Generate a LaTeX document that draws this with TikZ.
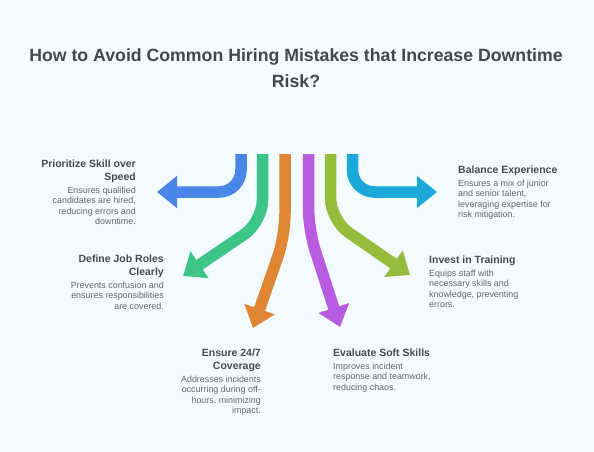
\documentclass[tikz,border=0pt]{standalone}
\usepackage{fontspec}
\setmainfont{Liberation Sans}
\usetikzlibrary{arrows.meta}
\definecolor{bg}{HTML}{F3FBFE}
\definecolor{cblue}{HTML}{4A86E8}
\definecolor{cgreen}{HTML}{3DC587}
\definecolor{corange}{HTML}{E08533}
\definecolor{cpurple}{HTML}{B75CE0}
\definecolor{colive}{HTML}{95BC3A}
\definecolor{ccyan}{HTML}{1BA9DA}
\definecolor{ctitle}{HTML}{474747}
\definecolor{chead}{HTML}{4A4A4A}
\definecolor{cbody}{HTML}{666666}
\begin{document}
\begin{tikzpicture}[x=1pt,y=-1pt,
  arr/.style={line width=11.5pt,-{Triangle[length=20pt,width=31pt]},rounded corners=22pt},
  maintitle/.style={inner sep=0pt,anchor=north,align=center,text=ctitle,font=\fontsize{17.7}{25.7}\selectfont\bfseries},
  headR/.style={inner sep=0pt,anchor=north east,align=right,text=chead,font=\fontsize{10.5}{13}\selectfont\bfseries},
  headL/.style={inner sep=0pt,anchor=north west,align=left,text=chead,font=\fontsize{10.5}{13}\selectfont\bfseries},
  bodyR/.style={inner sep=0pt,anchor=north east,align=right,text=cbody,font=\fontsize{8.9}{10.5}\selectfont},
  bodyL/.style={inner sep=0pt,anchor=north west,align=left,text=cbody,font=\fontsize{8.9}{10.5}\selectfont}]
\fill[bg] (0,0) rectangle (594,452);
\useasboundingbox (0,0) rectangle (594,452);

\node[maintitle] (title) at (296,48.7) {How to Avoid Common Hiring Mistakes that Increase Downtime\\Risk?};

% arrows
\coordinate (s1) at (241,154);   \coordinate (e1) at (157,192);
\coordinate (s2) at (262.5,154); \coordinate (k2) at (262.5,222); \coordinate (e2) at (183,276);
\coordinate (s3) at (285,154);   \coordinate (k3) at (285,236);   \coordinate (e3) at (253,328);
\coordinate (s4) at (308.5,154); \coordinate (k4) at (308.5,230); \coordinate (e4) at (340,327);
\coordinate (s5) at (330.5,154); \coordinate (k5) at (330.5,220); \coordinate (e5) at (410,275);
\coordinate (s6) at (352.5,154); \coordinate (e6) at (437,192);

\draw[arr,cblue] (s1) |- (e1);
\draw[arr,cgreen] (s2) -- (k2) -- (e2);
\draw[arr,corange] (s3) -- (k3) -- (e3);
\draw[arr,cpurple] (s4) -- (k4) -- (e4);
\draw[arr,colive] (s5) -- (k5) -- (e5);
\draw[arr,ccyan] (s6) |- (e6);

% labels
\node[headR] (h1) at (136,160) {Prioritize Skill over\\Speed};
\node[bodyR] (b1) at (136,186.6) {Ensures qualified\\candidates are hired,\\reducing errors and\\downtime.};

\node[headR] (h2) at (164,255) {Define Job Roles\\Clearly};
\node[bodyR] (b2) at (164,281.6) {Prevents confusion and\\ensures responsibilities\\are covered.};

\node[headR] (h3) at (261,349) {Ensure 24/7\\Coverage};
\node[bodyR] (b3) at (261,375.6) {Addresses incidents\\occurring during off-\\hours, minimizing\\impact.};

\node[headL] (h4) at (333,349) {Evaluate Soft Skills};
\node[bodyL] (b4) at (333,362.6) {Improves incident\\response and teamwork,\\reducing chaos.};

\node[headL] (h5) at (458,166) {Balance Experience};
\node[bodyL] (b5) at (458,179.6) {Ensures a mix of junior\\and senior talent,\\leveraging expertise for\\risk mitigation.};

\node[headL] (h6) at (429,256) {Invest in Training};
\node[bodyL] (b6) at (429,269.6) {Equips staff with\\necessary skills and\\knowledge, preventing\\errors.};
\end{tikzpicture}
\end{document}
